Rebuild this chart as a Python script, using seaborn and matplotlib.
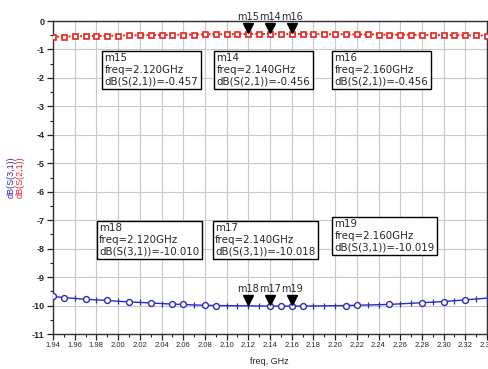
import matplotlib
matplotlib.use("Agg")
import matplotlib.pyplot as plt
from matplotlib.ticker import MultipleLocator
import seaborn as sns
import pandas as pd

# Sweep frequencies (GHz)
freq = [1.94, 1.95, 1.96, 1.97, 1.98, 1.99, 2.00, 2.01, 2.02, 2.03,
        2.04, 2.05, 2.06, 2.07, 2.08, 2.09, 2.10, 2.11, 2.12, 2.13,
        2.14, 2.15, 2.16, 2.17, 2.18, 2.19, 2.20, 2.21, 2.22, 2.23,
        2.24, 2.25, 2.26, 2.27, 2.28, 2.29, 2.30, 2.31, 2.32, 2.33, 2.34]

# Through path, dB(S(2,1))
s21 = [-0.550, -0.545, -0.540, -0.530, -0.525, -0.520, -0.510, -0.505, -0.500, -0.495,
       -0.490, -0.485, -0.480, -0.475, -0.470, -0.465, -0.462, -0.460, -0.457, -0.456,
       -0.456, -0.456, -0.456, -0.457, -0.460, -0.462, -0.465, -0.468, -0.470, -0.473,
       -0.476, -0.480, -0.483, -0.486, -0.490, -0.493, -0.496, -0.500, -0.503, -0.506, -0.510]

# Coupled path, dB(S(3,1))
s31 = [-9.68, -9.72, -9.75, -9.78, -9.80, -9.82, -9.85, -9.87, -9.89, -9.91,
       -9.93, -9.95, -9.96, -9.98, -9.99, -10.00, -10.005, -10.008, -10.010, -10.015,
       -10.018, -10.019, -10.019, -10.018, -10.015, -10.010, -10.005, -10.00, -9.99, -9.98,
       -9.97, -9.96, -9.94, -9.92, -9.90, -9.88, -9.86, -9.83, -9.80, -9.77, -9.74]

# Points of the S(3,1) trace drawn with circle symbols
s31_symbol_freq = [1.94, 1.95, 1.97, 1.99, 2.01, 2.03, 2.05, 2.06, 2.08, 2.09,
                   2.14, 2.15, 2.16, 2.17, 2.21, 2.22, 2.25, 2.28, 2.30, 2.32]

# Marker readouts
m21_names = ["m15", "m14", "m16"]
m21_freq = [2.120, 2.140, 2.160]
m21_vals = [-0.457, -0.456, -0.456]
m31_names = ["m18", "m17", "m19"]
m31_freq = [2.120, 2.140, 2.160]
m31_vals = [-10.010, -10.018, -10.019]

RED = "#e8231f"
BLUE = "#2b2bc0"

sns.set_theme(style="white")
plt.rcParams["font.family"] = ["Liberation Sans", "DejaVu Sans"]

df = pd.DataFrame({"freq": freq, "s21": s21, "s31": s31})
sym = df[df["freq"].round(2).isin([round(f, 2) for f in s31_symbol_freq])]
tick = df[~df.index.isin(sym.index)]

fig = plt.figure(figsize=(4.88, 3.69), dpi=100)
ax = fig.add_axes([53 / 488, 35 / 369, 434 / 488, 313 / 369])

# S(2,1): dotted trace with small square symbols
sns.lineplot(data=df, x="freq", y="s21", ax=ax, color=RED, lw=1.4,
             linestyle=(0, (1, 1.0)), marker="s", markersize=3.6,
             markerfacecolor="white", markeredgecolor=RED, markeredgewidth=1.2,
             zorder=3)

# S(3,1): solid trace with circles and small ticks
sns.lineplot(data=df, x="freq", y="s31", ax=ax, color=BLUE, lw=1.0, zorder=3)
sns.scatterplot(data=sym, x="freq", y="s31", ax=ax, marker="o", s=18,
                facecolor="white", edgecolor=BLUE, linewidth=1.0, zorder=4)
sns.scatterplot(data=tick, x="freq", y="s31", ax=ax, marker="|", s=14,
                color=BLUE, linewidth=0.9, zorder=4)

ax.set_xlim(1.94, 2.34)
ax.set_ylim(-11, 0)
ax.xaxis.set_minor_locator(MultipleLocator(0.01))
ax.yaxis.set_minor_locator(MultipleLocator(0.5))
xt = [1.94 + 0.02 * i for i in range(21)]
ax.set_xticks(xt)
ax.set_xticklabels([f"{v:.2f}" for v in xt], fontsize=5.5)
ax.set_yticks(range(-11, 1))
ax.set_yticklabels([str(v) for v in range(-11, 1)], fontsize=6.5, fontweight="bold")
ax.tick_params(axis="both", which="major", direction="out", length=4, width=0.9,
               color="#202020", pad=2, bottom=True, left=True)
ax.tick_params(axis="both", which="minor", direction="out", length=2.5, width=0.8,
               color="#202020", bottom=True, left=True)
ax.grid(True, which="major", color="#c8c8c8", lw=0.8)
for sp in ax.spines.values():
    sp.set_color("#303030")
    sp.set_linewidth(1.0)

ax.set_xlabel("")
ax.set_ylabel("")
fig.text(269 / 488, 1 - 362 / 369, "freq, GHz", fontsize=6.5, ha="center", va="center")
fig.text(11 / 488, 1 - 177 / 369, "dB(S(3,1))", fontsize=6.5, color=BLUE,
         rotation=90, ha="center", va="center")
fig.text(20 / 488, 1 - 177 / 369, "dB(S(2,1))", fontsize=6.5, color=RED,
         rotation=90, ha="center", va="center")

# Marker triangles and names
for names, fs, vs in ((m21_names, m21_freq, m21_vals),
                      (m31_names, m31_freq, m31_vals)):
    for n, f, v in zip(names, fs, vs):
        ax.plot([f], [v + 0.2], marker="v", color="black", markersize=7.5,
                linestyle="none", zorder=6, clip_on=False)
        ax.text(f, v + 0.42, n, fontsize=7, family="DejaVu Sans", ha="center",
                va="bottom", zorder=6, clip_on=False)

# Readout boxes
box = dict(boxstyle="square,pad=0.25", facecolor="white", edgecolor="black", lw=1.0)
readouts = [
    (m21_names[0], m21_freq[0], "dB(S(2,1))", m21_vals[0], 1.9875, -1.13),
    (m21_names[1], m21_freq[1], "dB(S(2,1))", m21_vals[1], 2.0905, -1.13),
    (m21_names[2], m21_freq[2], "dB(S(2,1))", m21_vals[2], 2.1995, -1.13),
    (m31_names[0], m31_freq[0], "dB(S(3,1))", m31_vals[0], 1.9825, -7.11),
    (m31_names[1], m31_freq[1], "dB(S(3,1))", m31_vals[1], 2.0895, -7.11),
    (m31_names[2], m31_freq[2], "dB(S(3,1))", m31_vals[2], 2.1995, -6.97),
]
for n, f, lab, v, x0, y0 in readouts:
    ax.text(x0, y0, f"{n}\nfreq={f:.3f}GHz\n{lab}={v:.3f}", fontsize=7.4,
            family="DejaVu Sans", ha="left", va="top", linespacing=1.18,
            bbox=box, zorder=7)

fig.savefig("out.png", dpi=100)
